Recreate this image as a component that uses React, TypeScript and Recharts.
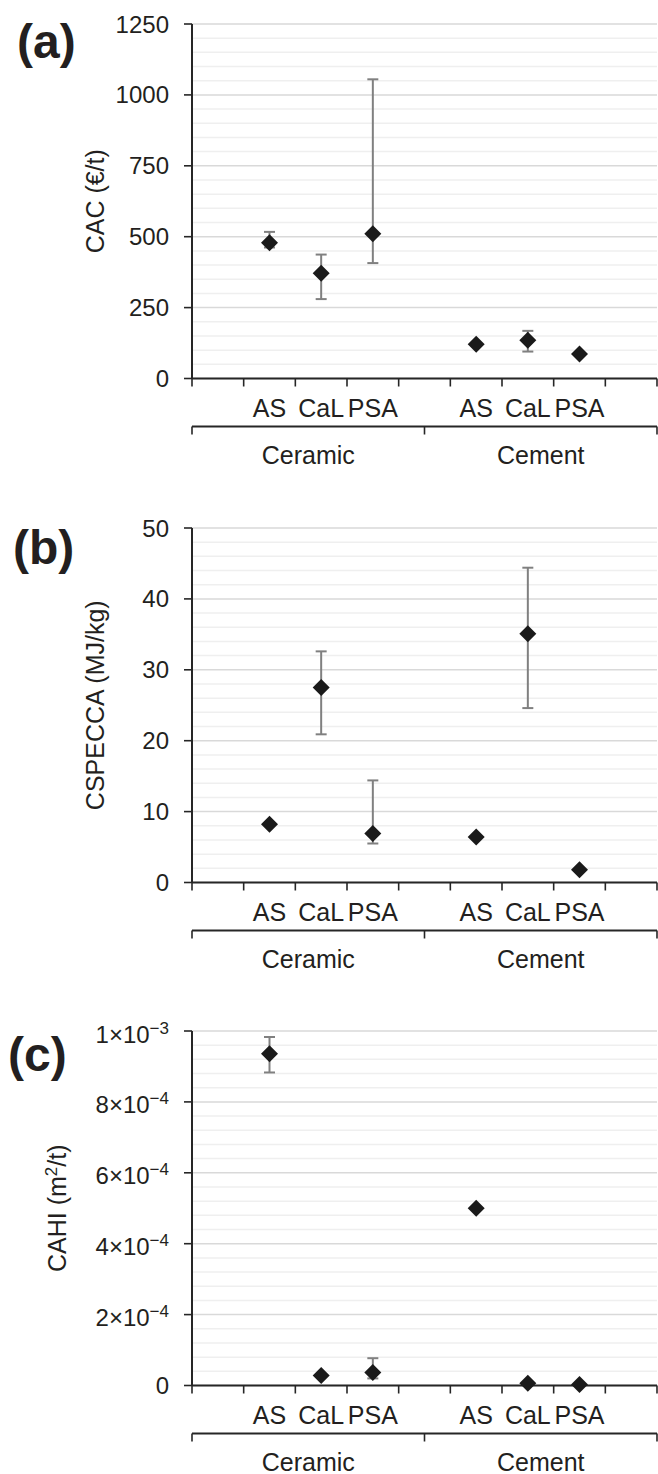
import React from "react";
import { ComposedChart, Scatter, XAxis, YAxis, CartesianGrid, ErrorBar, ReferenceLine } from "recharts";

const industries = ["Ceramic", "Cement"];
const processes = ["AS", "CaL", "PSA"];

// order: Ceramic AS, CaL, PSA, Cement AS, CaL, PSA
const cacMean = [479, 371, 510, 121, 135, 86];
const cacLow = [462, 280, 407, null, 95, null];
const cacHigh = [517, 437, 1055, null, 168, null];

const cspeccaMean = [8.2, 27.5, 6.9, 6.4, 35.1, 1.8];
const cspeccaLow = [null, 20.9, 5.5, null, 24.6, null];
const cspeccaHigh = [null, 32.6, 14.4, null, 44.4, null];

const cahiMean = [9.36e-4, 2.8e-5, 3.7e-5, 5.0e-4, 6e-6, 3e-6];
const cahiLow = [8.83e-4, null, 2.0e-5, null, null, null];
const cahiHigh = [9.83e-4, null, 7.7e-5, null, null, null];

const cacTicks = [0, 250, 500, 750, 1000, 1250];
const cspeccaTicks = [0, 10, 20, 30, 40, 50];
const cahiTicks = [0, 2e-4, 4e-4, 6e-4, 8e-4, 1e-3];

const INK = "#231f20";
const AXIS = "#262626";
const FONT = "'Liberation Sans', Arial, Helvetica, sans-serif";
const SLOTS = 9;
const CHART_W = 658;
const Y_W = 192;
const RIGHT = 1;
const PLOT_W = CHART_W - Y_W - RIGHT;
const PLOT_H = 354.5;
const TOP = 24;

function buildRows(mean: number[], low: (number | null)[], high: (number | null)[]) {
  return mean.map((v, k) => {
    const i = Math.floor(k / processes.length);
    const j = k % processes.length;
    const lo = low[k];
    const hi = high[k];
    return {
      pos: i * 4 + j + 1.5,
      process: processes[j],
      value: v,
      err: [lo == null ? 0 : v - lo, hi == null ? 0 : hi - v],
    };
  });
}

const procPositions = industries.flatMap((_, i) => processes.map((_, j) => i * 4 + j + 1.5));
const procNames = industries.flatMap(() => processes);
const groupBounds = industries.map((_, i) => i * 4.5).concat([SLOTS]);
const groupCenters = industries.map((_, i) => i * 4.5 + 2.25);
const slotBounds = Array.from({ length: SLOTS + 1 }, (_, k) => k);
const xTicks = Array.from(new Set([...slotBounds, ...procPositions, ...groupBounds, ...groupCenters])).sort(
  (a, b) => a - b
);

const BRACKET = 48;

function CategoryTick(props: any) {
  const { x, y, payload } = props;
  const v = payload.value;
  const parts: React.ReactNode[] = [];
  if (slotBounds.includes(v)) {
    parts.push(<line key="t" x1={x} x2={x} y1={y} y2={y + 8} stroke={AXIS} strokeWidth={1.6} />);
  }
  if (groupBounds.includes(v)) {
    parts.push(
      <line key="b" x1={x} x2={x} y1={y + BRACKET} y2={y + BRACKET + 8} stroke={AXIS} strokeWidth={1.6} />
    );
    if (v === 0) {
      parts.push(
        <line key="h" x1={x} x2={x + PLOT_W} y1={y + BRACKET} y2={y + BRACKET} stroke={AXIS} strokeWidth={2} />
      );
    }
  }
  const pi = procPositions.indexOf(v);
  if (pi >= 0) {
    parts.push(
      <text key="p" x={x} y={y + 38} textAnchor="middle" fontSize={25} fill={INK} fontFamily={FONT}>
        {procNames[pi]}
      </text>
    );
  }
  const gi = groupCenters.indexOf(v);
  if (gi >= 0) {
    parts.push(
      <text key="g" x={x} y={y + BRACKET + 37} textAnchor="middle" fontSize={25} fill={INK} fontFamily={FONT}>
        {industries[gi]}
      </text>
    );
  }
  return <g>{parts}</g>;
}

function SciTick(props: any) {
  const { x, y, payload } = props;
  const v = payload.value;
  if (v === 0) {
    return (
      <text x={x} y={y} dy="0.355em" textAnchor="end" fontSize={24} fill={INK} fontFamily={FONT}>
        0
      </text>
    );
  }
  const exp = Math.floor(Math.log10(v) + 1e-9);
  const mant = Math.round(v / Math.pow(10, exp));
  return (
    <text x={x} y={y + 3} dy="0.355em" textAnchor="end" fontSize={24} fill={INK} fontFamily={FONT}>
      {`${mant}×10`}
      <tspan dy={-9} fontSize={17}>{`−${-exp}`}</tspan>
    </text>
  );
}

function Diamond(props: any) {
  const { cx, cy } = props;
  const r = 8.5;
  return <polygon points={`${cx},${cy - r} ${cx + r},${cy} ${cx},${cy + r} ${cx - r},${cy}`} fill="#1a1a1a" />;
}

type PanelProps = {
  title: string;
  titleX: number;
  titleY: number;
  yLabel: React.ReactNode;
  yLabelX: number;
  rows: any[];
  ticks: number[];
  minorStep: number;
  height: number;
  sciTicks?: boolean;
};

function Panel(p: PanelProps) {
  const yMax = p.ticks[p.ticks.length - 1];
  const majorStep = p.ticks[1];
  const perMajor = Math.round(majorStep / p.minorStep);
  const nMinor = Math.round(yMax / p.minorStep);
  const minors: number[] = [];
  for (let k = 1; k < nMinor; k++) if (k % perMajor !== 0) minors.push(k * p.minorStep);
  const midY = TOP + PLOT_H / 2;

  return (
    <div style={{ position: "relative", width: CHART_W, height: p.height }}>
      <ComposedChart
        width={CHART_W}
        height={p.height}
        data={p.rows}
        margin={{ top: TOP, right: RIGHT, bottom: 0, left: 0 }}
      >
        <CartesianGrid vertical={false} stroke="#d9d9d9" strokeWidth={1.5} />
        {minors.map((m) => (
          <ReferenceLine key={m} y={m} stroke="#efefef" strokeWidth={1.5} />
        ))}
        <XAxis
          dataKey="pos"
          type="number"
          domain={[0, SLOTS]}
          allowDataOverflow
          ticks={xTicks}
          interval={0}
          tick={<CategoryTick />}
          tickLine={false}
          tickSize={0}
          tickMargin={0}
          axisLine={{ stroke: AXIS, strokeWidth: 2 }}
          height={p.height - TOP - PLOT_H}
        />
        <YAxis
          type="number"
          domain={[0, yMax]}
          ticks={p.ticks}
          interval={0}
          width={Y_W}
          tickSize={8}
          tickMargin={15}
          tick={p.sciTicks ? <SciTick /> : { fontSize: 24, fill: INK, fontFamily: FONT }}
          tickLine={{ stroke: AXIS, strokeWidth: 1.6 }}
          axisLine={{ stroke: AXIS, strokeWidth: 2 }}
        />
        <Scatter dataKey="value" shape={<Diamond />} isAnimationActive={false}>
          <ErrorBar dataKey="err" direction="y" width={5.5} stroke="#808080" strokeWidth={2} />
        </Scatter>
      </ComposedChart>
      <svg
        width={CHART_W}
        height={p.height}
        style={{ position: "absolute", left: 0, top: 0, pointerEvents: "none" }}
      >
        <text x={p.titleX} y={p.titleY} fontSize={48} fontWeight="bold" fill={INK} fontFamily={FONT}>
          {p.title}
        </text>
        <text
          x={p.yLabelX}
          y={midY}
          transform={`rotate(-90, ${p.yLabelX}, ${midY})`}
          textAnchor="middle"
          dy="0.35em"
          fontSize={25}
          fill={INK}
          fontFamily={FONT}
        >
          {p.yLabel}
        </text>
      </svg>
    </div>
  );
}

export default function App() {
  return (
    <div style={{ width: CHART_W, background: "#fff", fontFamily: FONT }}>
      <style>{`body{margin:0;background:#fff;}`}</style>
      <Panel
        title="(a)"
        titleX={17}
        titleY={58}
        yLabel="CAC (€/t)"
        yLabelX={95}
        rows={buildRows(cacMean, cacLow, cacHigh)}
        ticks={cacTicks}
        minorStep={50}
        height={504}
      />
      <Panel
        title="(b)"
        titleX={13}
        titleY={60}
        yLabel="CSPECCA (MJ/kg)"
        yLabelX={95}
        rows={buildRows(cspeccaMean, cspeccaLow, cspeccaHigh)}
        ticks={cspeccaTicks}
        minorStep={2}
        height={503}
      />
      <Panel
        title="(c)"
        titleX={8}
        titleY={64}
        yLabel={
          <>
            CAHI (m<tspan dy={-9} fontSize={17}>2</tspan>
            <tspan dy={9}>/t)</tspan>
          </>
        }
        yLabelX={57}
        rows={buildRows(cahiMean, cahiLow, cahiHigh)}
        ticks={cahiTicks}
        minorStep={4e-5}
        height={467}
        sciTicks
      />
    </div>
  );
}
